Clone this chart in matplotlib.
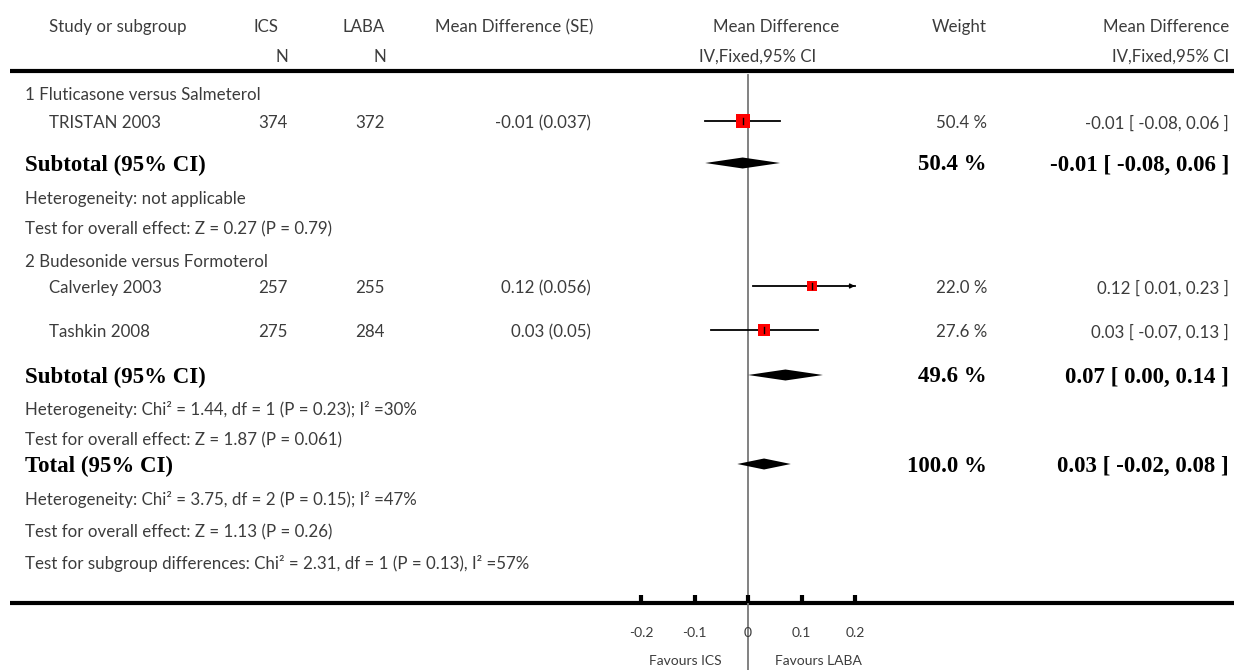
import matplotlib.pyplot as plt
import numpy as np

# study-level results
studies = ['TRISTAN 2003', 'Calverley 2003', 'Tashkin 2008']
n_ics = [374, 257, 275]
n_laba = [372, 255, 284]
md = [-0.01, 0.12, 0.03]
se = [0.037, 0.056, 0.05]
ci_lo = [-0.08, 0.01, -0.07]
ci_hi = [0.06, 0.23, 0.13]
weight = [50.4, 22.0, 27.6]

# pooled results: subgroup 1, subgroup 2, total
pooled_label = ['Subtotal (95% CI)', 'Subtotal (95% CI)', 'Total (95% CI)']
pooled_md = [-0.01, 0.07, 0.03]
pooled_lo = [-0.08, 0.00, -0.02]
pooled_hi = [0.06, 0.14, 0.08]
pooled_w = [50.4, 49.6, 100.0]

subgroups = ['1 Fluticasone versus Salmeterol', '2 Budesonide versus Formoterol']
notes = [
    'Heterogeneity: not applicable',
    'Test for overall effect: Z = 0.27 (P = 0.79)',
    'Heterogeneity: Chi² = 1.44, df = 1 (P = 0.23); I² =30%',
    'Test for overall effect: Z = 1.87 (P = 0.061)',
    'Heterogeneity: Chi² = 3.75, df = 2 (P = 0.15); I² =47%',
    'Test for overall effect: Z = 1.13 (P = 0.26)',
    'Test for subgroup differences: Chi² = 2.31, df = 1 (P = 0.13), I² =57%',
]
xticks = [-0.2, -0.1, 0, 0.1, 0.2]
xticklabels = ['-0.2', '-0.1', '0', '0.1', '0.2']

# row layout (pixels from top)
W, H = 1234, 670
study_y = [123, 288, 332]
pooled_y = [165, 377, 466]
subgroup_y = [95, 262]
note_y = [199, 229, 410, 440, 499, 532, 564]
axis_y = 603

sans = 'Lato'
serif = 'Liberation Serif'
fs = 12.2
grey = '#3c3c3c'

fig = plt.figure(figsize=(W / 100, H / 100), dpi=100)
ax_t = fig.add_axes([0, 0, 1, 1])
ax_t.set_xlim(0, W)
ax_t.set_ylim(H, 0)
ax_t.axis('off')

# plot axes: -0.2 sits at x=641 px, 0.2 at x=855 px
px = 0.4 / (855 - 641)
ax = fig.add_axes([0, 0, 1, 1], facecolor='none')
ax.set_xlim(-0.2 - 641 * px, 0.2 + (W - 855) * px)
ax.set_ylim(H, 0)
ax.axis('off')

def txt(x, y, s, ha='left', **kw):
    kw.setdefault('fontsize', fs)
    kw.setdefault('family', sans)
    kw.setdefault('color', grey)
    ax_t.text(x, y, s, ha=ha, va='center', **kw)

def bold(x, y, s, ha='left'):
    txt(x, y, s, ha=ha, family=serif, fontweight='bold', fontsize=16.5,
        color='black')

# header
txt(49, 27, 'Study or subgroup')
txt(278, 27, 'ICS', ha='right')
txt(288, 57, 'N', ha='right')
txt(385, 27, 'LABA', ha='right')
txt(386, 57, 'N', ha='right')
txt(435, 27, 'Mean Difference (SE)')
txt(776, 27, 'Mean Difference', ha='center')
txt(758, 57, 'IV,Fixed,95% CI', ha='center')
txt(987, 27, 'Weight', ha='right')
txt(1229, 27, 'Mean Difference', ha='right')
txt(1229, 57, 'IV,Fixed,95% CI', ha='right')
ax_t.plot([10, W], [71, 71], color='black', lw=3, solid_capstyle='butt')
ax_t.plot([10, W], [axis_y, axis_y], color='black', lw=3, solid_capstyle='butt')

for s, y in zip(subgroups, subgroup_y):
    txt(25, y, s)
for s, y in zip(notes, note_y):
    txt(25, y, s)

# zero line
ax.plot([0, 0], [75, H], color='#777777', lw=1.3, zorder=1)

# individual studies
for i, y in enumerate(study_y):
    txt(49, y, studies[i])
    txt(288, y, str(n_ics[i]), ha='right')
    txt(385, y, str(n_laba[i]), ha='right')
    txt(591, y, f'{md[i]:.2f} ({se[i]})', ha='right')
    txt(987, y, f'{weight[i]:.1f} %', ha='right')
    txt(1229, y, f'{md[i]:.2f} [ {ci_lo[i]:.2f}, {ci_hi[i]:.2f} ]', ha='right')
    yl = y - 2
    lo, hi = max(ci_lo[i], -0.2), min(ci_hi[i], 0.2)
    ax.plot([lo, hi], [yl, yl], color='black', lw=1.3, zorder=2)
    if ci_hi[i] > 0.2:
        ax.annotate('', xy=(0.2, yl), xytext=(0.19, yl),
                    arrowprops=dict(arrowstyle='-|>', color='black', lw=1,
                                    mutation_scale=7, shrinkA=0, shrinkB=0))
    side = 2.1 * np.sqrt(weight[i])
    ax.plot(md[i], yl, marker='s', color='red', markersize=side * 0.72,
            markeredgewidth=0, zorder=3)
    ax.plot([md[i], md[i]], [yl - 3, yl + 3], color='black', lw=1, zorder=4)

# pooled diamonds
for i, y in enumerate(pooled_y):
    bold(25, y, pooled_label[i])
    bold(987, y, f'{pooled_w[i]:.1f} %', ha='right')
    bold(1229, y, f'{pooled_md[i]:.2f} [ {pooled_lo[i]:.2f}, {pooled_hi[i]:.2f} ]',
         ha='right')
    yd = y - 2
    ax.fill([pooled_lo[i], pooled_md[i], pooled_hi[i], pooled_md[i]],
            [yd, yd - 5.5, yd, yd + 5.5], color='black', lw=0, zorder=3)

# bottom scale
for t, lab in zip(xticks, xticklabels):
    ax.plot([t, t], [axis_y - 8, axis_y], color='black', lw=3,
            solid_capstyle='butt')
    ax.text(t, 633, lab, ha='center', va='center', fontsize=10, family=sans,
            color=grey)
ax.text(-0.05, 661, 'Favours ICS', ha='right', va='center', fontsize=10,
        family=sans, color=grey)
ax.text(0.05, 661, 'Favours LABA', ha='left', va='center', fontsize=10,
        family=sans, color=grey)

fig.savefig('out.png', dpi=100)
